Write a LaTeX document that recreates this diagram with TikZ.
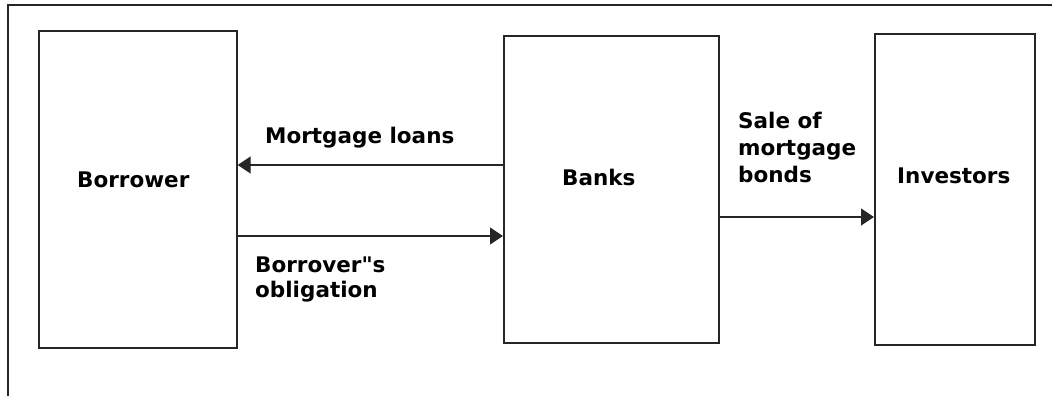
\documentclass[tikz,border=0pt]{standalone}
\usepackage{fontspec}
\setmainfont{DejaVu Sans}
\font\qfont="DejaVu Sans/B" at 21.5pt
\usetikzlibrary{arrows.meta}
\tikzset{
  frame/.style={draw=black!85, line width=1.7pt},
  boxnode/.style={draw=black!85, line width=1.7pt, inner sep=0pt, anchor=north west},
  lbl/.style={inner sep=0pt, font=\fontsize{21.5}{25}\selectfont\bfseries, align=left},
  arr/.style={draw=black!85, line width=1.3pt, -{Triangle[length=13pt,width=17pt]}}
}
\begin{document}
\begin{tikzpicture}[x=1pt,y=-1pt]
\useasboundingbox (0,0) rectangle (1052,396);
\draw[frame] (8,396) -- (8,5) -- (1052,5);
% boxes
\node[boxnode, minimum width=198pt, minimum height=317pt] (borrower) at (38,30) {};
\node[boxnode, minimum width=215pt, minimum height=307pt] (banks) at (503,35) {};
\node[boxnode, minimum width=160pt, minimum height=311pt] (investors) at (874,33) {};
% box texts
\node[lbl, anchor=base west] (tborrower) at (77,187) {Borrower};
\node[lbl, anchor=base west] (tbanks) at (562,185) {Banks};
\node[lbl, anchor=base west] (tinvestors) at (897,183) {Investors};
% connector heights
\coordinate (y1) at (0,165);
\coordinate (y2) at (0,236);
\coordinate (y3) at (0,217);
\draw[arr] (banks.west |- y1) -- (borrower.east |- y1);
\draw[arr] (borrower.east |- y2) -- (banks.west |- y2);
\draw[arr] (banks.east |- y3) -- (investors.west |- y3);
% connector labels
\node[lbl, anchor=base west] (tloans) at (265,143) {Mortgage loans};
\node[lbl, anchor=north west] (toblig) at (255,256.7) {Borrover{\qfont"}s\\obligation};
\node[lbl, anchor=north west, font=\fontsize{21.5}{27}\selectfont\bfseries] (tsale) at (738,111.7) {Sale of\\mortgage\\bonds};
\end{tikzpicture}
\end{document}
